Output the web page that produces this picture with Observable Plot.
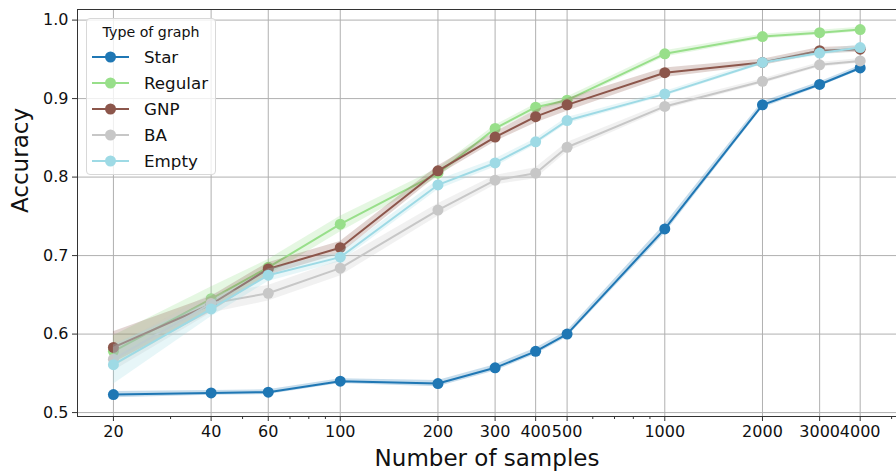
<!DOCTYPE html>
<html>
<head>
<meta charset="utf-8">
<script src="https://cdn.jsdelivr.net/npm/d3@7"></script>
<script src="https://cdn.jsdelivr.net/npm/@observablehq/plot@0.6"></script>
<style>
  html, body { margin: 0; padding: 0; background: #fff; overflow: hidden; }
  #wrap { position: relative; width: 896px; height: 471px; font-family: "DejaVu Sans", sans-serif; }
  #legend { position: absolute; left: 86px; top: 18px; width: 130px; height: 157px; box-sizing: border-box;
    border: 1px solid #d8d8d8; border-radius: 4px; background: rgba(255,255,255,0.8); color: #111; }
  #legend .title { position: absolute; left: 0; width: 100%; top: 5px; text-align: center; font-size: 14.2px; }
  #legend .row { position: absolute; left: 0; height: 20px; display: flex; align-items: center; }
  #legend .row svg { margin-left: 5px; }
  #legend .row span { margin-left: 14px; font-size: 16.7px; }
</style>
</head>
<body>
<div id="wrap"><div id="legend"></div></div>
<script>
const samples = [20, 40, 60, 100, 200, 300, 400, 500, 1000, 2000, 3000, 4000];
const seriesNames = ["Star", "Regular", "GNP", "BA", "Empty"];
const seriesColors = ["#1f77b4", "#98df8a", "#8c564b", "#c7c7c7", "#9edae5"];

const star    = [0.523, 0.525, 0.526, 0.540, 0.537, 0.557, 0.578, 0.600, 0.734, 0.892, 0.918, 0.939];
const regular = [0.578, 0.645, 0.685, 0.740, 0.805, 0.862, 0.889, 0.898, 0.957, 0.979, 0.984, 0.988];
const gnp     = [0.583, 0.638, 0.683, 0.710, 0.808, 0.851, 0.877, 0.892, 0.933, 0.946, 0.961, 0.963];
const ba      = [0.568, 0.639, 0.652, 0.684, 0.758, 0.796, 0.805, 0.838, 0.890, 0.922, 0.943, 0.948];
const empty   = [0.561, 0.632, 0.675, 0.698, 0.790, 0.818, 0.845, 0.872, 0.906, 0.946, 0.958, 0.965];

// half-widths of the confidence bands
const starErr    = [0.004, 0.003, 0.003, 0.003, 0.004, 0.004, 0.004, 0.004, 0.006, 0.004, 0.003, 0.003];
const regularErr = [0.020, 0.015, 0.010, 0.010, 0.006, 0.004, 0.004, 0.004, 0.004, 0.003, 0.003, 0.003];
const gnpErr     = [0.020, 0.010, 0.008, 0.008, 0.006, 0.006, 0.008, 0.008, 0.006, 0.004, 0.004, 0.004];
const baErr      = [0.015, 0.012, 0.010, 0.010, 0.008, 0.006, 0.007, 0.006, 0.004, 0.003, 0.003, 0.003];
const emptyErr   = [0.025, 0.010, 0.008, 0.006, 0.006, 0.005, 0.004, 0.004, 0.003, 0.003, 0.003, 0.004];

const xTicks = [20, 40, 60, 100, 200, 300, 400, 500, 1000, 2000, 3000, 4000];
const xTickLabels = ["20", "40", "60", "100", "200", "300", "400", "500", "1000", "2000", "3000", "4000"];
const xMinor = [30, 50, 70, 80, 90, 600, 700, 800, 900, 5000];
const yTicks = [0.5, 0.6, 0.7, 0.8, 0.9, 1.0];

const values = [star, regular, gnp, ba, empty];
const errs = [starErr, regularErr, gnpErr, baErr, emptyErr];

const rows = [];
seriesNames.forEach((s, i) => {
  samples.forEach((n, j) => {
    rows.push({series: s, n, acc: values[i][j], lo: values[i][j] - errs[i][j], hi: values[i][j] + errs[i][j]});
  });
});

const seriesMarks = [];
seriesNames.forEach((s, i) => {
  const d = rows.filter(r => r.series === s);
  const c = seriesColors[i];
  seriesMarks.push(Plot.areaY(d, {x: "n", y1: "lo", y2: "hi", fill: c, fillOpacity: 0.25}));
  seriesMarks.push(Plot.line(d, {x: "n", y: "acc", stroke: c, strokeWidth: 2}));
  seriesMarks.push(Plot.dot(d, {x: "n", y: "acc", fill: c, r: 5.5}));
});

const xLabelRows = xTicks.map((v, i) => ({v, label: xTickLabels[i]}));

const chart = Plot.plot({
  width: 896,
  height: 471,
  marginLeft: 77,
  marginRight: 0,
  marginTop: 9,
  marginBottom: 55,
  style: {fontFamily: "DejaVu Sans, sans-serif", fontSize: "16px", color: "#111", background: "transparent"},
  x: {type: "log", domain: [15.5, 5176]},
  y: {domain: [0.495, 1.0135]},
  marks: [
    Plot.gridY(yTicks, {stroke: "#b0b0b0", strokeOpacity: 1, strokeWidth: 1}),
    Plot.gridX(xTicks, {stroke: "#b0b0b0", strokeOpacity: 1, strokeWidth: 1}),
    ...seriesMarks,
    Plot.frame({anchor: "left", stroke: "#333"}),
    Plot.frame({anchor: "top", stroke: "#333"}),
    Plot.frame({anchor: "bottom", stroke: "#333"}),
    Plot.axisY(yTicks, {tickFormat: d3.format(".1f"), tickSize: 5, tickPadding: 4, label: null, stroke: "#333", fill: "#111"}),
    Plot.axisX(xTicks, {tickFormat: () => "", tickSize: 5, label: null, stroke: "#333"}),
    Plot.axisX(xMinor, {tickFormat: () => "", tickSize: 3, label: null, stroke: "#333"}),
    Plot.text(xLabelRows, {x: "v", text: "label", frameAnchor: "bottom", dy: 20, fontSize: 16, fill: "#111"}),
    Plot.text(["Number of samples"], {frameAnchor: "bottom", dy: 49, fontSize: 23, fill: "#111", text: d => d}),
    Plot.text(["Accuracy"], {frameAnchor: "left", dx: -57, rotate: -90, fontSize: 23, fill: "#111", text: d => d})
  ]
});

const wrap = document.getElementById("wrap");
wrap.insertBefore(chart, wrap.firstChild);

// legend
const legend = document.getElementById("legend");
const title = document.createElement("div");
title.className = "title";
title.textContent = "Type of graph";
legend.appendChild(title);
seriesNames.forEach((s, i) => {
  const row = document.createElement("div");
  row.className = "row";
  row.style.top = (28 + i * 26) + "px";
  const ns = "http://www.w3.org/2000/svg";
  const svg = document.createElementNS(ns, "svg");
  svg.setAttribute("width", 38); svg.setAttribute("height", 20);
  const line = document.createElementNS(ns, "line");
  line.setAttribute("x1", 0); line.setAttribute("x2", 37); line.setAttribute("y1", 10); line.setAttribute("y2", 10);
  line.setAttribute("stroke", seriesColors[i]); line.setAttribute("stroke-width", 2);
  const circ = document.createElementNS(ns, "circle");
  circ.setAttribute("cx", 18.5); circ.setAttribute("cy", 10); circ.setAttribute("r", 5.5);
  circ.setAttribute("fill", seriesColors[i]);
  svg.appendChild(line); svg.appendChild(circ);
  const span = document.createElement("span");
  span.textContent = s;
  row.appendChild(svg); row.appendChild(span);
  legend.appendChild(row);
});
</script>
</body>
</html>
